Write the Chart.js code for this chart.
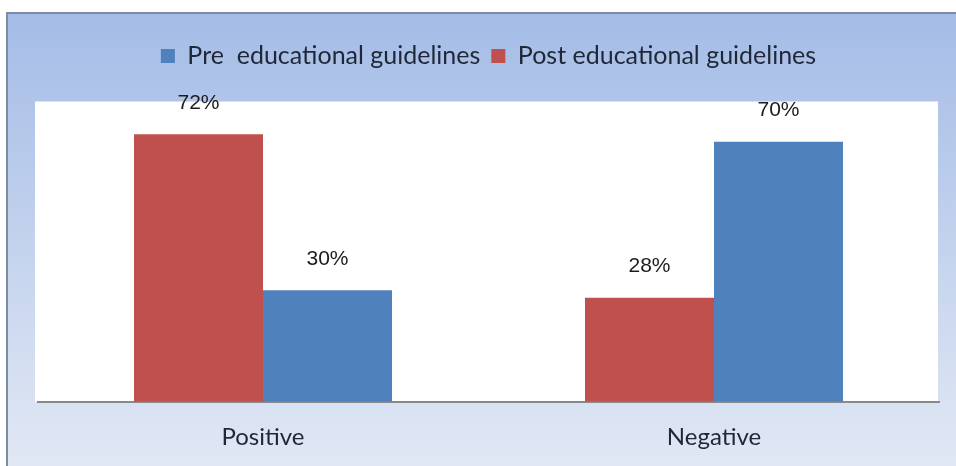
<!DOCTYPE html>
<html>
<head>
<meta charset="utf-8">
<script src="https://cdn.jsdelivr.net/npm/chart.js@4/dist/chart.umd.min.js"></script>
<style>
  html, body { margin: 0; padding: 0; background: #ffffff; }
  #wrap { width: 956px; height: 466px; }
</style>
</head>
<body>
<div id="wrap"><canvas id="chart" width="956" height="466"></canvas></div>
<script>
// chart data
const categories = ['Positive', 'Negative'];
const preLabel = 'Pre  educational guidelines';
const postLabel = 'Post educational guidelines';
const preValues = [30, 70];
const postValues = [72, 28];
const yMax = 80;

const textColor = '#1f2738';

// background, frame and white plot area
const backdrop = {
    id: 'backdrop',
    beforeDraw(chart) {
        const ctx = chart.ctx;
        const area = chart.chartArea;
        ctx.save();
        ctx.fillStyle = '#ffffff';
        ctx.fillRect(0, 0, chart.width, chart.height);
        const grad = ctx.createLinearGradient(0, 12, 0, chart.height);
        grad.addColorStop(0, '#a4bce6');
        grad.addColorStop(1, '#e1e8f4');
        ctx.fillStyle = grad;
        ctx.fillRect(6, 12, chart.width - 6, chart.height - 12);
        // frame on left and top
        ctx.strokeStyle = '#7d8ba3';
        ctx.lineWidth = 2;
        ctx.beginPath();
        ctx.moveTo(7, chart.height);
        ctx.lineTo(7, 13);
        ctx.lineTo(chart.width, 13);
        ctx.stroke();
        // plot area (a little taller than the value axis)
        ctx.fillStyle = '#ffffff';
        ctx.fillRect(area.left - 2.5, area.top - 3, area.right - area.left + 1, area.bottom - area.top + 3);
        ctx.restore();
    }
};

// percent labels above the bars
const valueLabels = {
    id: 'valueLabels',
    afterDatasetsDraw(chart) {
        const ctx = chart.ctx;
        ctx.save();
        ctx.font = '21px "Liberation Sans", Arial, sans-serif';
        ctx.fillStyle = '#1c1c1c';
        ctx.textAlign = 'center';
        ctx.textBaseline = 'middle';
        chart.data.datasets.forEach((ds, i) => {
            const meta = chart.getDatasetMeta(i);
            meta.data.forEach((bar, j) => {
                ctx.fillText(ds.data[j] + '%', bar.x, bar.y - 31);
            });
        });
        ctx.restore();
    }
};

// extra room between legend and plot
const legendSpace = {
    id: 'legendSpace',
    beforeInit(chart) {
        const origFit = chart.legend.fit;
        chart.legend.fit = function () {
            origFit.bind(chart.legend)();
            this.height += 26;
        };
    }
};

const chart = new Chart(document.getElementById('chart'), {
    type: 'bar',
    data: {
        labels: categories,
        datasets: [
            {
                label: postLabel,
                data: postValues,
                backgroundColor: '#c0504d',
                borderWidth: 0
            },
            {
                label: preLabel,
                data: preValues,
                backgroundColor: '#4f81bd',
                borderWidth: 0
            }
        ]
    },
    options: {
        responsive: false,
        devicePixelRatio: 1,
        animation: false,
        categoryPercentage: 0.572,
        barPercentage: 1,
        layout: {
            padding: { left: 37.5, right: 16.5, top: 32.5, bottom: 0 }
        },
        plugins: {
            legend: {
                position: 'top',
                reverse: true,
                labels: {
                    boxWidth: 14,
                    boxHeight: 14,
                    padding: 11,
                    color: textColor,
                    font: { family: 'Lato', size: 25 }
                }
            },
            tooltip: { enabled: false }
        },
        scales: {
            x: {
                grid: { display: false, drawTicks: false },
                border: { display: true, color: '#8a8a8a', width: 2 },
                ticks: {
                    color: textColor,
                    font: { family: 'Lato', size: 24 },
                    padding: 21
                },
                afterFit(scale) {
                    scale.height = 64.3;
                }
            },
            y: {
                display: false,
                min: 0,
                max: yMax
            }
        }
    },
    plugins: [backdrop, valueLabels, legendSpace]
});
</script>
</body>
</html>
